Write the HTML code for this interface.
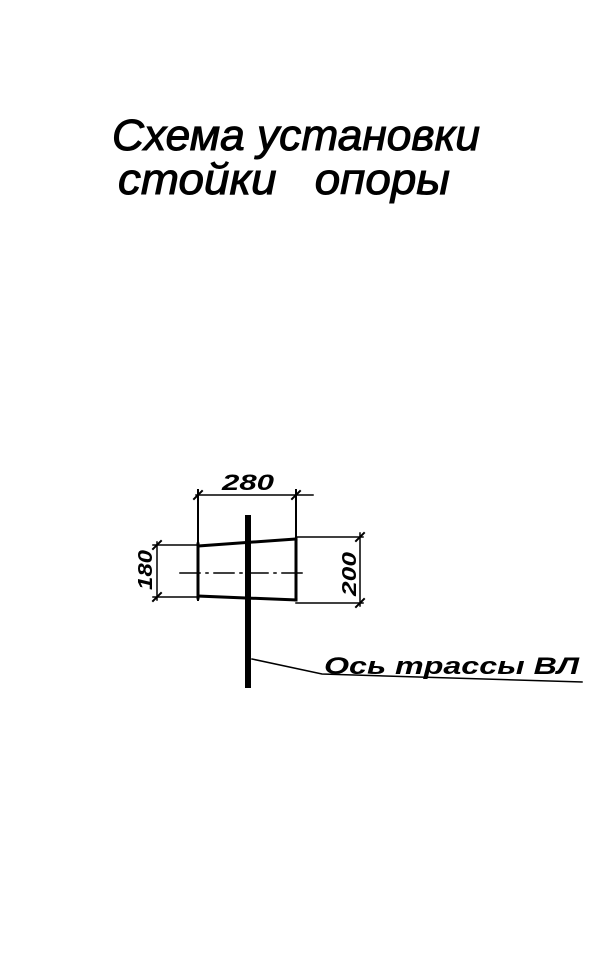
<!DOCTYPE html>
<html><head><meta charset="utf-8"><style>
html,body{margin:0;padding:0;background:#fff;}
svg{display:block;}
text{font-family:"Liberation Sans","DejaVu Sans",sans-serif;font-style:italic;fill:#000;}
</style></head><body>
<svg width="600" height="973" viewBox="0 0 600 973" xmlns="http://www.w3.org/2000/svg">
<text x="112" y="150" font-size="44" stroke="#000" stroke-width="1" textLength="368" lengthAdjust="spacingAndGlyphs">Схема установки</text>
<text x="118" y="194" font-size="44" stroke="#000" stroke-width="1" textLength="332" lengthAdjust="spacingAndGlyphs">стойки&#160;&#160; опоры</text>
<g stroke="#000" fill="none" stroke-linecap="square">
<line x1="196" y1="495" x2="313" y2="495" stroke-width="1.5"/>
<line x1="198" y1="490" x2="198" y2="600" stroke-width="2"/>
<line x1="296" y1="490" x2="296" y2="600" stroke-width="2"/>
<line x1="194" y1="499" x2="202" y2="491" stroke-width="2"/>
<line x1="292" y1="499" x2="300" y2="491" stroke-width="2"/>
<line x1="198" y1="546" x2="296" y2="539" stroke-width="3"/>
<line x1="198" y1="596" x2="296" y2="600" stroke-width="3"/>
<line x1="198" y1="544" x2="198" y2="598" stroke-width="3"/>
<line x1="296" y1="539" x2="296" y2="600" stroke-width="3"/>
<line x1="157" y1="542" x2="157" y2="600" stroke-width="1.5"/>
<line x1="153" y1="545" x2="198" y2="545" stroke-width="1.5"/>
<line x1="153" y1="597" x2="198" y2="597" stroke-width="1.5"/>
<line x1="153" y1="549" x2="161" y2="541" stroke-width="2"/>
<line x1="153" y1="601" x2="161" y2="593" stroke-width="2"/>
<line x1="296" y1="537" x2="363" y2="537" stroke-width="1.5"/>
<line x1="296" y1="603" x2="363" y2="603" stroke-width="1.5"/>
<line x1="360" y1="533" x2="360" y2="606" stroke-width="1.5"/>
<line x1="356" y1="541" x2="364" y2="533" stroke-width="2"/>
<line x1="356" y1="607" x2="364" y2="599" stroke-width="2"/>
<line x1="180" y1="573" x2="308" y2="573" stroke-width="1.5" stroke-dasharray="20,6,2,6"/>
<polyline points="252,659 322,674 582,682" stroke-width="1.5"/>
</g>
<rect x="245" y="515" width="6" height="173" fill="#000"/>
<text x="222" y="490" font-size="22" font-weight="bold" textLength="52" lengthAdjust="spacingAndGlyphs">280</text>
<text transform="translate(152,590) rotate(-90)" font-size="20" font-weight="bold" textLength="40" lengthAdjust="spacingAndGlyphs">180</text>
<text transform="translate(356,596) rotate(-90)" font-size="20" font-weight="bold" textLength="44" lengthAdjust="spacingAndGlyphs">200</text>
<text x="324" y="674" font-size="24" font-weight="bold" textLength="255" lengthAdjust="spacingAndGlyphs">Ось трассы ВЛ</text>
</svg>
</body></html>
